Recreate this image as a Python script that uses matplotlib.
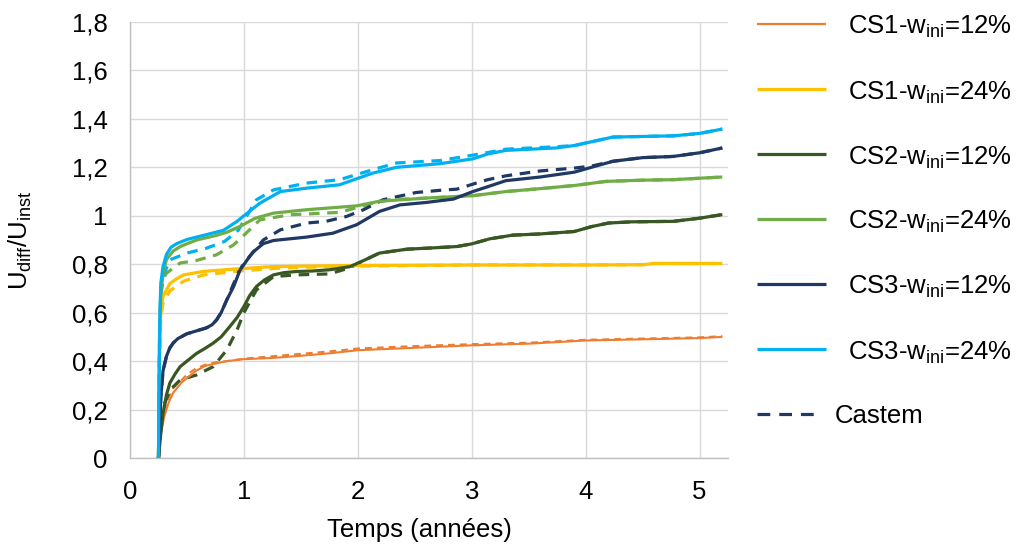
import matplotlib
matplotlib.use("Agg")
import matplotlib.pyplot as plt
from matplotlib.lines import Line2D
from matplotlib.ticker import FuncFormatter

plt.rcParams['font.family'] = ['Liberation Sans', 'DejaVu Sans']
plt.rcParams['mathtext.default'] = 'regular'

# ---------------- data ----------------
labels = ["CS1-w$_{ini}$=12%", "CS1-w$_{ini}$=24%", "CS2-w$_{ini}$=12%",
          "CS2-w$_{ini}$=24%", "CS3-w$_{ini}$=12%", "CS3-w$_{ini}$=24%"]
castem_label = "Castem"
colors = ["#ED7D31", "#FFC000", "#385723", "#70AD47", "#1F3864", "#00B0F0"]

# CS1 w=12%
cs1_12_x = [0.25, 0.26, 0.27, 0.30, 0.34, 0.38, 0.45, 0.50, 0.58, 0.66, 0.75, 0.85, 1.0, 1.25, 1.5, 1.75, 2.0, 2.5, 3.0, 3.5, 4.0, 4.5, 5.0, 5.2]
cs1_12_y = [0, 0.06, 0.10, 0.17, 0.23, 0.27, 0.31, 0.33, 0.36, 0.38, 0.39, 0.40, 0.408, 0.413, 0.422, 0.432, 0.445, 0.455, 0.465, 0.472, 0.485, 0.49, 0.495, 0.50]
cs1_12_cx = cs1_12_x
cs1_12_cy = [0, 0.08, 0.13, 0.20, 0.25, 0.29, 0.32, 0.345, 0.37, 0.385, 0.395, 0.40, 0.41, 0.42, 0.43, 0.44, 0.452, 0.462, 0.47, 0.476, 0.488, 0.493, 0.498, 0.503]

# CS1 w=24%
cs1_24_x = [0.25, 0.26, 0.27, 0.29, 0.35, 0.41, 0.47, 0.64, 0.91, 1.25, 1.5, 2.0, 3.0, 4.0, 4.5, 4.6, 5.2]
cs1_24_y = [0, 0.45, 0.60, 0.667, 0.72, 0.74, 0.756, 0.77, 0.78, 0.79, 0.792, 0.795, 0.797, 0.797, 0.798, 0.803, 0.803]
cs1_24_cx = cs1_24_x
cs1_24_cy = [0, 0.42, 0.58, 0.64, 0.69, 0.71, 0.73, 0.755, 0.77, 0.782, 0.787, 0.792, 0.797, 0.797, 0.798, 0.803, 0.803]

# CS2 w=12%
cs2_12_x = [0.25, 0.27, 0.29, 0.32, 0.35, 0.40, 0.44, 0.50, 0.585, 0.65, 0.73, 0.80, 0.877, 0.94, 1.0, 1.05, 1.11, 1.18, 1.26, 1.35, 1.46, 1.6, 1.75, 1.93, 2.05, 2.19, 2.43, 2.6, 2.87, 3.0, 3.16, 3.36, 3.6, 3.9, 4.05, 4.2, 4.4, 4.77, 5.0, 5.2]
cs2_12_y = [0, 0.10, 0.185, 0.26, 0.31, 0.35, 0.377, 0.40, 0.432, 0.45, 0.474, 0.50, 0.543, 0.58, 0.625, 0.67, 0.708, 0.735, 0.756, 0.765, 0.77, 0.772, 0.777, 0.79, 0.815, 0.846, 0.862, 0.866, 0.873, 0.884, 0.905, 0.92, 0.925, 0.935, 0.955, 0.97, 0.975, 0.977, 0.99, 1.005]
cs2_12_cx = [0.25, 0.27, 0.30, 0.35, 0.44, 0.585, 0.73, 0.85, 0.94, 1.0, 1.11, 1.26, 1.46, 1.75, 1.93, 2.05, 2.19, 2.43, 2.6, 2.87, 3.0, 3.16, 3.36, 3.6, 3.9, 4.05, 4.2, 4.4, 4.77, 5.0, 5.2]
cs2_12_cy = [0, 0.12, 0.22, 0.28, 0.322, 0.343, 0.377, 0.446, 0.529, 0.60, 0.694, 0.749, 0.756, 0.76, 0.785, 0.815, 0.846, 0.862, 0.866, 0.873, 0.884, 0.905, 0.92, 0.925, 0.935, 0.955, 0.97, 0.975, 0.977, 0.99, 1.005]

# CS2 w=24%
cs2_24_x = [0.25, 0.26, 0.27, 0.29, 0.32, 0.38, 0.45, 0.585, 0.75, 0.85, 0.965, 1.1, 1.26, 1.55, 1.99, 2.19, 2.6, 3.01, 3.3, 3.6, 3.9, 4.18, 4.5, 4.77, 5.0, 5.2]
cs2_24_y = [0, 0.5, 0.68, 0.76, 0.82, 0.855, 0.875, 0.9, 0.918, 0.932, 0.956, 0.99, 1.011, 1.025, 1.041, 1.06, 1.073, 1.083, 1.10, 1.112, 1.125, 1.142, 1.147, 1.149, 1.155, 1.16]
cs2_24_cx = [0.25, 0.26, 0.27, 0.29, 0.32, 0.44, 0.58, 0.76, 0.91, 0.99, 1.14, 1.40, 1.84, 2.13, 2.28, 2.6, 3.01, 3.3, 3.6, 3.9, 4.18, 4.5, 4.77, 5.0, 5.2]
cs2_24_cy = [0, 0.5, 0.66, 0.74, 0.763, 0.805, 0.815, 0.839, 0.88, 0.915, 0.983, 1.004, 1.014, 1.052, 1.066, 1.073, 1.083, 1.10, 1.112, 1.125, 1.142, 1.147, 1.149, 1.155, 1.16]

# CS3 w=12%
cs3_12_x = [0.25, 0.26, 0.27, 0.29, 0.32, 0.35, 0.38, 0.42, 0.50, 0.585, 0.67, 0.72, 0.76, 0.80, 0.85, 0.91, 0.965, 1.05, 1.08, 1.17, 1.26, 1.55, 1.78, 1.99, 2.19, 2.37, 2.6, 2.84, 3.01, 3.14, 3.3, 3.6, 3.9, 4.05, 4.24, 4.5, 4.77, 5.0, 5.2]
cs3_12_y = [0, 0.10, 0.25, 0.36, 0.42, 0.455, 0.475, 0.493, 0.513, 0.525, 0.537, 0.55, 0.57, 0.60, 0.653, 0.708, 0.775, 0.832, 0.85, 0.885, 0.898, 0.912, 0.928, 0.963, 1.018, 1.045, 1.055, 1.069, 1.10, 1.12, 1.145, 1.16, 1.18, 1.20, 1.225, 1.24, 1.245, 1.26, 1.28]
cs3_12_cx = [0.25, 0.26, 0.27, 0.29, 0.32, 0.35, 0.38, 0.42, 0.50, 0.585, 0.67, 0.72, 0.76, 0.80, 0.85, 0.91, 0.965, 1.05, 1.17, 1.32, 1.55, 1.72, 1.9, 2.05, 2.22, 2.51, 2.72, 2.87, 3.04, 3.14, 3.3, 3.6, 3.9, 4.05, 4.24, 4.5, 4.77, 5.0, 5.2]
cs3_12_cy = [0, 0.10, 0.25, 0.36, 0.42, 0.455, 0.475, 0.493, 0.513, 0.525, 0.537, 0.55, 0.57, 0.60, 0.653, 0.72, 0.78, 0.832, 0.90, 0.942, 0.97, 0.977, 0.997, 1.025, 1.066, 1.096, 1.105, 1.11, 1.135, 1.149, 1.165, 1.185, 1.197, 1.205, 1.225, 1.24, 1.245, 1.26, 1.28]

# CS3 w=24%
cs3_24_x = [0.25, 0.26, 0.27, 0.29, 0.32, 0.36, 0.41, 0.50, 0.61, 0.82, 0.94, 1.0, 1.14, 1.32, 1.55, 1.84, 2.13, 2.34, 2.72, 3.01, 3.14, 3.3, 3.74, 3.9, 4.24, 4.77, 5.0, 5.2]
cs3_24_y = [0, 0.55, 0.72, 0.79, 0.84, 0.87, 0.885, 0.902, 0.915, 0.94, 0.977, 1.0, 1.052, 1.10, 1.114, 1.128, 1.176, 1.20, 1.215, 1.235, 1.255, 1.27, 1.28, 1.29, 1.325, 1.33, 1.34, 1.358]
cs3_24_cx = [0.25, 0.26, 0.27, 0.29, 0.35, 0.50, 0.67, 0.83, 0.95, 1.11, 1.26, 1.55, 1.84, 2.13, 2.34, 2.72, 3.07, 3.3, 3.74, 3.9, 4.24, 4.77, 5.0, 5.2]
cs3_24_cy = [0, 0.5, 0.68, 0.75, 0.818, 0.846, 0.866, 0.894, 0.94, 1.066, 1.107, 1.135, 1.149, 1.19, 1.218, 1.228, 1.255, 1.275, 1.285, 1.29, 1.325, 1.33, 1.34, 1.358]

solid_x = [cs1_12_x, cs1_24_x, cs2_12_x, cs2_24_x, cs3_12_x, cs3_24_x]
solid_y = [cs1_12_y, cs1_24_y, cs2_12_y, cs2_24_y, cs3_12_y, cs3_24_y]
castem_x = [cs1_12_cx, cs1_24_cx, cs2_12_cx, cs2_24_cx, cs3_12_cx, cs3_24_cx]
castem_y = [cs1_12_cy, cs1_24_cy, cs2_12_cy, cs2_24_cy, cs3_12_cy, cs3_24_cy]

xticks = [0, 1, 2, 3, 4, 5]
yticks = [0, 0.2, 0.4, 0.6, 0.8, 1.0, 1.2, 1.4, 1.6, 1.8]

# ---------------- figure ----------------
W, H = 1018, 548
FS = 18.5
fig = plt.figure(figsize=(W / 100, H / 100), dpi=100)
ax = fig.add_axes([130 / W, 1 - 458 / H, (728 - 130) / W, (458 - 22) / H])

widths = [1.5, 2.3, 2.3, 2.3, 2.3, 2.3]
for i in range(6):
    ax.plot(castem_x[i], castem_y[i], color=colors[i], lw=widths[i],
            dashes=(3.3, 2.4), solid_capstyle='butt', zorder=3)
for i in range(6):
    ax.plot(solid_x[i], solid_y[i], color=colors[i], lw=widths[i],
            solid_capstyle='butt', solid_joinstyle='round', zorder=4)

ax.set_xlim(0, 5.25)
ax.set_ylim(0, 1.8)
ax.set_xticks(xticks)
ax.set_yticks(yticks)
fmt = FuncFormatter(lambda v, p: ('%g' % v).replace('.', ','))
ax.yaxis.set_major_formatter(fmt)
ax.xaxis.set_major_formatter(fmt)
ax.tick_params(axis='both', length=0, labelsize=FS, colors='#000000')
ax.tick_params(axis='y', pad=16)
ax.tick_params(axis='x', pad=16)
ax.grid(True, color='#D9D9D9', lw=1.0, zorder=0)
ax.set_axisbelow(True)
for s in ['top', 'right']:
    ax.spines[s].set_visible(False)
for s in ['left', 'bottom']:
    ax.spines[s].set_color('#BFBFBF')
    ax.spines[s].set_linewidth(1.0)

ax.set_xlabel("Temps (années)", fontsize=FS)
ax.xaxis.set_label_coords(0.484, -0.138)
ax.set_ylabel("U$_{diff}$/U$_{inst}$", fontsize=FS)
ax.yaxis.set_label_coords(-0.160, 0.5)

# ---------------- legend (drawn in figure pixels) ----------------
row_y = [24.3, 89.3, 154.3, 219.0, 284.0, 349.3, 414.3]
for i in range(6):
    yy = 1 - row_y[i] / H
    fig.add_artist(Line2D([757 / W, 826 / W], [yy, yy], color=colors[i],
                          lw=widths[i] if i else 1.6, solid_capstyle='butt'))
    fig.text(848 / W, 1 - (row_y[i] + 10) / H, labels[i], fontsize=FS,
             va='baseline', ha='left')
yy = 1 - row_y[6] / H
fig.add_artist(Line2D([757 / W, 814 / W], [yy, yy], color=colors[4], lw=2.3,
                      dashes=(4.0, 2.8)))
fig.text(835 / W, 1 - (row_y[6] + 9) / H, castem_label, fontsize=FS,
         va='baseline', ha='left')

fig.savefig("out.png", dpi=100)
